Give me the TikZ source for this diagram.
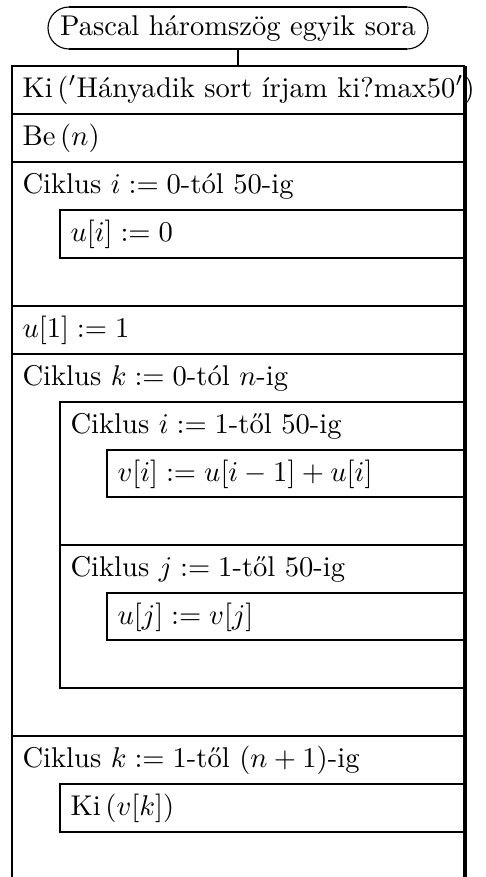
\documentclass[tikz,border=0pt]{standalone}
\begin{document}
\begin{tikzpicture}[x=0.35pt,y=-0.35pt,
  txt/.style={anchor=base west,inner sep=0pt,font=\fontsize{10}{12}\selectfont},
  boxline/.style={line width=0.9pt},
  rightline/.style={line width=1.4pt},
  arcline/.style={line width=0.4pt}]
\useasboundingbox (0,0) rectangle (485,877);
% terminal
\node[anchor=base,inner sep=0pt,font=\fontsize{10}{12}\selectfont] (title) at (238,35) {Pascal háromszög egyik sora};
\draw[boxline] (69,7) -- (407,7);
\draw[boxline] (69,49) -- (407,49);
\draw[arcline] (69,7) arc[start angle=270,end angle=90,radius=21];
\draw[arcline] (407,7) arc[start angle=-90,end angle=90,radius=21];
\coordinate (tb) at (238,49);
\coordinate (mt) at (238,66);
\draw[boxline] (tb) -- (mt);
% outer frame
\draw[boxline] (12,877) -- (12,66) -- (465,66);
\draw[rightline] (465,66) -- (465,877);
% full-width separators
\foreach \yy in {114,162,306,354,736}
  \draw[boxline] (12,\yy) -- (465,\yy);
% loop 1 body
\draw[boxline] (465,210) -- (60,210) -- (60,258) -- (465,258);
% loop k body
\draw[boxline] (465,402) -- (60,402) -- (60,688) -- (465,688);
\draw[boxline] (60,545) -- (465,545);
\draw[boxline] (465,450) -- (107,450) -- (107,497) -- (465,497);
\draw[boxline] (465,593) -- (107,593) -- (107,640) -- (465,640);
% loop k2 body
\draw[boxline] (465,784) -- (60,784) -- (60,832) -- (465,832);
% texts
\node[txt] (s1) at (22,97) {Ki\,($'$Hányadik sort írjam ki?max50$'$)};
\node[txt] (s2) at (22,145) {Be\,($n$)};
\node[txt] (l1) at (22,193) {Ciklus $i:=0$-tól 50-ig};
\node[txt] (s3) at (70,241) {$u[i]:=0$};
\node[txt] (s4) at (22,337) {$u[1]:=1$};
\node[txt] (l2) at (22,385) {Ciklus $k:=0$-tól $n$-ig};
\node[txt] (l3) at (70,433) {Ciklus $i:=1$-től 50-ig};
\node[txt] (s5) at (117,481) {$v[i]:=u[i-1]+u[i]$};
\node[txt] (l4) at (70,576) {Ciklus $j:=1$-től 50-ig};
\node[txt] (s6) at (117,624) {$u[j]:=v[j]$};
\node[txt] (l5) at (22,767) {Ciklus $k:=1$-től $(n+1)$-ig};
\node[txt] (s7) at (70,815) {Ki\,($v[k]$)};
\end{tikzpicture}
\end{document}
